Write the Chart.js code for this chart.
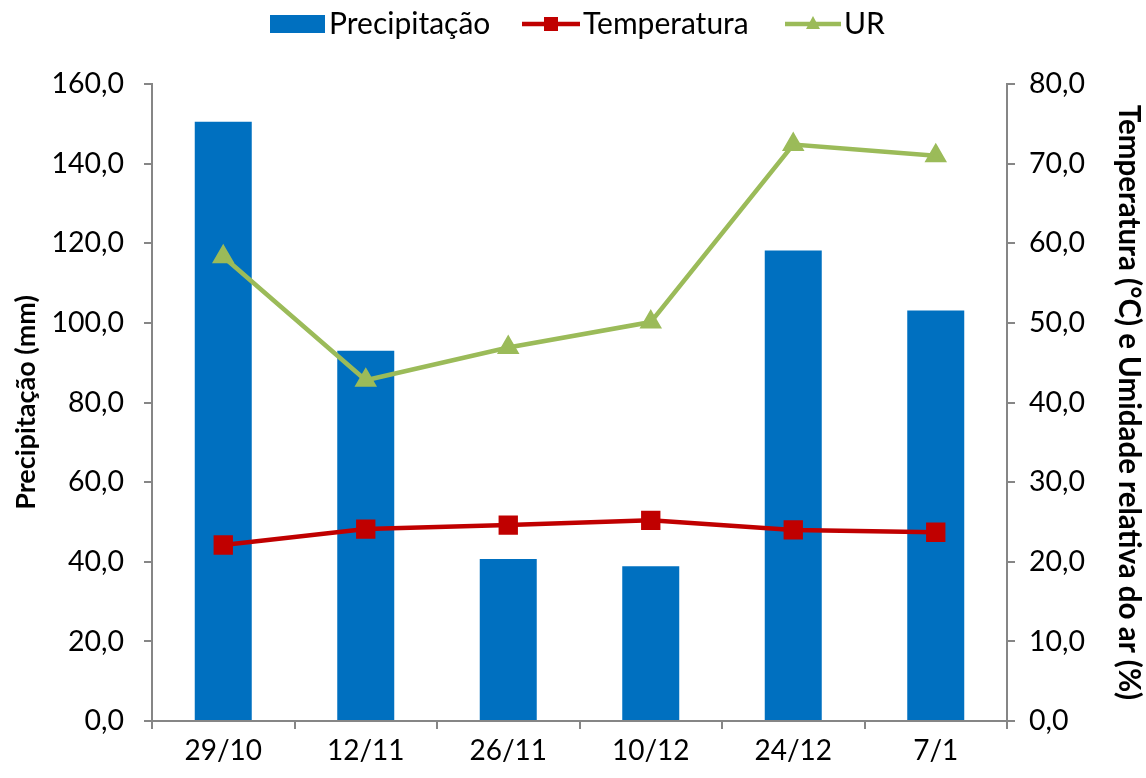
<!DOCTYPE html>
<html lang="pt">
<head>
<meta charset="utf-8">
<title>Precipitação, Temperatura e UR</title>
<script src="https://cdn.jsdelivr.net/npm/chart.js@4.4.1/dist/chart.umd.min.js"></script>
<style>
  html, body { margin: 0; padding: 0; background: #fff; }
  #wrap { width: 1146px; height: 778px; }
</style>
</head>
<body>
<div id="wrap"><canvas id="grafico" width="1146" height="778"></canvas></div>
<script>
"use strict";

// dados
const datas = ["29/10", "12/11", "26/11", "10/12", "24/12", "7/1"];
const precipitacao = [150.5, 93.0, 40.7, 38.9, 118.2, 103.1];
const temperatura = [22.1, 24.1, 24.6, 25.2, 24.0, 23.7];
const umidade = [58.3, 42.8, 46.9, 50.1, 72.4, 71.0];

const ticksEsq = { min: 0, max: 160, passo: 20 };
const ticksDir = { min: 0, max: 80, passo: 10 };

const azul = "#0070C0";
const vermelho = "#C00000";
const verde = "#9BBB59";
const cinza = "#868686";
const fonte = "Lato, 'Open Sans', sans-serif";

const virgula = v => v.toFixed(1).replace(".", ",");

// legenda no estilo do Excel (barra + linhas com marcador)
const legendaPlugin = {
    id: "legendaExcel",
    afterDraw(chart) {
        const ctx = chart.ctx;
        const y = 24;
        ctx.save();
        ctx.font = "30px " + fonte;
        ctx.textBaseline = "middle";

        ctx.fillStyle = azul;
        ctx.fillRect(270, 15, 55, 18);
        ctx.fillStyle = "#000";
        ctx.fillText("Precipitação", 329, y);

        ctx.strokeStyle = vermelho;
        ctx.lineWidth = 4.5;
        ctx.beginPath(); ctx.moveTo(522, y); ctx.lineTo(580, y); ctx.stroke();
        ctx.fillStyle = vermelho;
        ctx.fillRect(544, y - 7, 14, 14);
        ctx.fillStyle = "#000";
        ctx.fillText("Temperatura", 583, y);

        ctx.strokeStyle = verde;
        ctx.beginPath(); ctx.moveTo(785, y); ctx.lineTo(841, y); ctx.stroke();
        ctx.fillStyle = verde;
        ctx.beginPath();
        ctx.moveTo(813, y - 8); ctx.lineTo(820, y + 5); ctx.lineTo(806, y + 5);
        ctx.closePath(); ctx.fill();
        ctx.fillStyle = "#000";
        ctx.fillText("UR", 844, y);
        ctx.restore();
    }
};

const ctx = document.getElementById("grafico");

new Chart(ctx, {
    data: {
        labels: datas,
        datasets: [
            {
                type: "line",
                label: "Temperatura",
                data: temperatura,
                yAxisID: "yDir",
                borderColor: vermelho,
                backgroundColor: vermelho,
                borderWidth: 4.5,
                pointStyle: "rect",
                pointRadius: 10.5,
                pointHoverRadius: 10.5,
                tension: 0,
                order: 0
            },
            {
                type: "line",
                label: "UR",
                data: umidade,
                yAxisID: "yDir",
                borderColor: verde,
                backgroundColor: verde,
                borderWidth: 4.5,
                pointStyle: "triangle",
                pointRadius: 8.5,
                pointHoverRadius: 8.5,
                tension: 0,
                order: 0
            },
            {
                type: "bar",
                label: "Precipitação",
                data: precipitacao,
                yAxisID: "yEsq",
                backgroundColor: azul,
                barPercentage: 0.4,
                categoryPercentage: 1,
                order: 1
            }
        ]
    },
    options: {
        responsive: false,
        animation: false,
        layout: { padding: { top: 84, left: 0, right: 0, bottom: 0 } },
        plugins: {
            legend: { display: false },
            tooltip: { enabled: false }
        },
        scales: {
            x: {
                offset: true,
                grid: {
                    offset: true,
                    drawOnChartArea: false,
                    drawTicks: true,
                    tickLength: 8,
                    color: cinza,
                    lineWidth: 2
                },
                border: { color: cinza, width: 2 },
                ticks: { color: "#000", font: { family: fonte, size: 28 }, padding: 5, maxRotation: 0 },
                afterFit(scale) { scale.height = 57; }
            },
            yEsq: {
                position: "left",
                min: ticksEsq.min,
                max: ticksEsq.max,
                grid: {
                    drawOnChartArea: false,
                    drawTicks: true,
                    tickLength: 8,
                    color: cinza,
                    lineWidth: 2
                },
                border: { color: cinza, width: 2 },
                ticks: {
                    stepSize: ticksEsq.passo,
                    color: "#000",
                    font: { family: fonte, size: 28.5 },
                    padding: 20,
                    callback: v => virgula(v)
                },
                title: {
                    display: true,
                    text: "Precipitação (mm)",
                    color: "#000",
                    font: { family: fonte, size: 27, weight: "bold" },
                    padding: { top: 10, bottom: 0 }
                },
                afterFit(scale) { scale.width = 152; }
            },
            yDir: {
                position: "right",
                min: ticksDir.min,
                max: ticksDir.max,
                grid: {
                    drawOnChartArea: false,
                    drawTicks: true,
                    tickLength: 8,
                    color: cinza,
                    lineWidth: 2
                },
                border: { color: cinza, width: 2 },
                ticks: {
                    stepSize: ticksDir.passo,
                    color: "#000",
                    font: { family: fonte, size: 28.5 },
                    padding: 14,
                    callback: v => virgula(v)
                },
                title: {
                    display: true,
                    text: "Temperatura (°C) e Umidade relativa do ar (%)",
                    color: "#000",
                    font: { family: fonte, size: 29.5, weight: "bold" },
                    padding: { top: 0, bottom: 6 }
                },
                afterFit(scale) { scale.width = 139; }
            }
        }
    },
    plugins: [legendaPlugin]
});
</script>
</body>
</html>
